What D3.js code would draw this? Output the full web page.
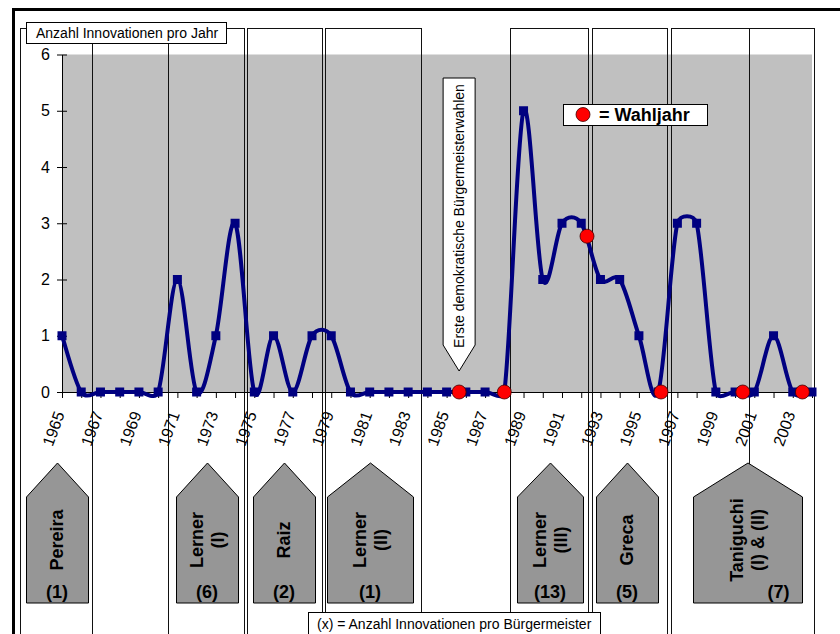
<!DOCTYPE html>
<html>
<head>
<meta charset="utf-8">
<script src="https://cdn.jsdelivr.net/npm/d3@7"></script>
<style>
  body { margin: 0; background: #fff; }
  svg { display: block; }
  text { font-family: "Liberation Sans", Arial, Helvetica, sans-serif; fill: #000; }
</style>
</head>
<body>
<svg id="chart" width="840" height="634"></svg>
<script>
// ---- data ----
const years = [1965, 1966, 1967, 1968, 1969, 1970, 1971, 1972, 1973, 1974,
               1975, 1976, 1977, 1978, 1979, 1980, 1981, 1982, 1983, 1984,
               1985, 1986, 1987, 1988, 1989, 1990, 1991, 1992, 1993, 1994,
               1995, 1996, 1997, 1998, 1999, 2000, 2001, 2002, 2003, 2004];
const innovations = [1, 0, 0, 0, 0, 0, 2, 0, 1, 3,
                     0, 1, 0, 1, 1, 0, 0, 0, 0, 0,
                     0, 0, 0, 0, 5, 2, 3, 3, 2, 2,
                     1, 0, 3, 3, 0, 0, 0, 1, 0, 0];
const yearLabels = [1965, 1967, 1969, 1971, 1973, 1975, 1977, 1979, 1981, 1983,
                    1985, 1987, 1989, 1991, 1993, 1995, 1997, 1999, 2001, 2003];
const yTicks = [0, 1, 2, 3, 4, 5, 6];

// election years (position on the year axis) and the value where the dot sits
const electionYears = [1985.65, 1988.0, 1992.3, 1996.15, 2000.4, 2003.5];
const electionValues = [0, 0, 2.77, 0, 0, 0];

// mayoral terms: box span and arrow span on the year axis
const mayorNames  = [["Pereira"], ["Lerner", "(I)"], ["Raiz"], ["Lerner", "(II)"],
                     ["Lerner", "(III)"], ["Greca"], ["Taniguchi", "(I) & (II)"]];
const mayorCounts = [1, 6, 2, 1, 13, 5, 7];
const termStart   = [1962.82, 1970.51, 1974.62, 1978.68, 1988.30, 1992.56, 1996.67];
const termEnd     = [1966.56, 1974.46, 1978.52, 1983.67, 1992.35, 1996.46, 2004.10];
const arrowStart  = [1963.13, 1970.93, 1974.93, 1978.78, 1988.66, 1992.77, 1997.81];
const arrowEnd    = [1966.35, 1974.15, 1978.16, 1983.25, 1992.09, 1995.99, 2003.48];
const termSplit   = 2000.72;   // Taniguchi I | Taniguchi II
const firstElection = 1985.65;

// ---- layout ----
const svg = d3.select("#chart");
const plot = { left: 62, right: 812, top: 54.5, bottom: 392 };
const x = d3.scaleLinear().domain([1965, 2004]).range([plot.left, plot.right]);
const y = d3.scaleLinear().domain([0, 6]).range([plot.bottom, plot.top]);
const navy = "#000080";
const font = "'Liberation Sans', Arial, sans-serif";

svg.append("rect").attr("width", 840).attr("height", 634).attr("fill", "#fff");

// grey plot area
svg.append("rect")
  .attr("x", plot.left).attr("y", plot.top)
  .attr("width", plot.right - plot.left).attr("height", plot.bottom - plot.top)
  .attr("fill", "#c0c0c0");

// term boxes
const boxTop = 28, boxBottom = 640;
const terms = d3.range(mayorNames.length).map(i => ({
  name: mayorNames[i], count: mayorCounts[i],
  s: termStart[i], e: termEnd[i], as: arrowStart[i], ae: arrowEnd[i]
}));
svg.append("g").selectAll("rect").data(terms).join("rect")
  .attr("x", d => Math.round(x(d.s)) + 0.5)
  .attr("y", boxTop + 0.5)
  .attr("width", d => Math.round(x(d.e)) - Math.round(x(d.s)))
  .attr("height", boxBottom - boxTop)
  .attr("fill", "none").attr("stroke", "#111").attr("stroke-width", 1);

svg.append("line")
  .attr("x1", Math.round(x(termSplit)) + 0.5).attr("x2", Math.round(x(termSplit)) + 0.5)
  .attr("y1", boxTop).attr("y2", 477)
  .attr("stroke", "#111").attr("stroke-width", 1);

// x axis
const xAxis = d3.axisBottom(x)
  .tickValues(years)
  .tickSizeInner(6).tickSizeOuter(0)
  .tickFormat(d => yearLabels.includes(d) ? String(d) : "");
const gx = svg.append("g").attr("transform", `translate(0,${plot.bottom})`).call(xAxis);
gx.select(".domain").attr("stroke", "#000");
gx.selectAll(".tick line").attr("stroke", "#000");
gx.selectAll(".tick text")
  .attr("y", 0).attr("dy", "0.35em")
  .attr("transform", "translate(-3,20) rotate(-70)")
  .style("text-anchor", "end")
  .style("font-size", "16px")
  .style("font-family", font)
  .attr("fill", "#000");

// y axis with crossing ticks
const yAxis = d3.axisLeft(y).tickValues(yTicks).tickFormat(d3.format("d"))
  .tickSizeInner(5).tickSizeOuter(0).tickPadding(7);
const gy = svg.append("g").attr("transform", `translate(${plot.left},0)`).call(yAxis);
gy.select(".domain").attr("stroke", "#000");
gy.selectAll(".tick line").attr("stroke", "#000").attr("x1", 5);
gy.selectAll(".tick text")
  .style("font-size", "16px")
  .style("font-family", font)
  .attr("fill", "#000");

// callout: first democratic mayoral elections
const cx = x(firstElection);
svg.append("path")
  .attr("d", `M${cx - 16},78 H${cx + 16} V345 L${cx},371 L${cx - 16},345 Z`)
  .attr("fill", "#fff").attr("stroke", "#000").attr("stroke-width", 1);
svg.append("text")
  .attr("transform", `translate(${cx},216) rotate(-90)`)
  .attr("dy", "0.35em")
  .attr("text-anchor", "middle")
  .style("font-size", "14px")
  .text("Erste demokratische Bürgermeisterwahlen");

// innovations curve: cubic Bézier smoothing, tangent = 1/6 of the
// neighbour chord, limited to half the length of the current segment
function smoothPath(p) {
  const path = d3.path();
  const n = p.length;
  const at = i => p[Math.max(0, Math.min(n - 1, i))];
  const dist = (a, b) => Math.hypot(b[0] - a[0], b[1] - a[1]);
  const tangent = (a, b, seg) => {
    let tx = (b[0] - a[0]) / 6, ty = (b[1] - a[1]) / 6;
    const len = Math.hypot(tx, ty);
    if (len > seg / 2 && len > 0) { const k = seg / 2 / len; tx *= k; ty *= k; }
    return [tx, ty];
  };
  path.moveTo(p[0][0], p[0][1]);
  for (let i = 0; i < n - 1; i++) {
    const p0 = at(i - 1), p1 = at(i), p2 = at(i + 1), p3 = at(i + 2);
    const d12 = dist(p1, p2);
    const t1 = tangent(p0, p2, d12), t2 = tangent(p1, p3, d12);
    path.bezierCurveTo(p1[0] + t1[0], p1[1] + t1[1],
                       p2[0] - t2[0], p2[1] - t2[1],
                       p2[0], p2[1]);
  }
  return path.toString();
}
const pts = years.map((yr, i) => [x(yr), y(innovations[i])]);
svg.append("path")
  .attr("d", smoothPath(pts))
  .attr("fill", "none").attr("stroke", navy).attr("stroke-width", 4)
  .attr("stroke-linejoin", "round");
svg.append("g").selectAll("rect").data(pts).join("rect")
  .attr("x", d => d[0] - 4.5).attr("y", d => d[1] - 4.5)
  .attr("width", 9).attr("height", 9).attr("fill", navy);

// election dots
svg.append("g").selectAll("circle").data(electionYears).join("circle")
  .attr("cx", d => x(d)).attr("cy", (d, i) => y(electionValues[i]))
  .attr("r", 7).attr("fill", "#ff0000").attr("stroke", "#400000").attr("stroke-width", 0.8);

// legend
svg.append("rect").attr("x", 563.5).attr("y", 104.5).attr("width", 144).attr("height", 21)
  .attr("fill", "#fff").attr("stroke", "#000");
svg.append("circle").attr("cx", 583).attr("cy", 114.5).attr("r", 7)
  .attr("fill", "#ff0000").attr("stroke", "#400000").attr("stroke-width", 0.8);
svg.append("text").attr("x", 599).attr("y", 121)
  .style("font-size", "18px").style("font-weight", "bold").text("= Wahljahr");

// title box
svg.append("rect").attr("x", 26.5).attr("y", 22.5).attr("width", 200).attr("height", 21)
  .attr("fill", "#fff").attr("stroke", "#000");
svg.append("text").attr("x", 36).attr("y", 38)
  .style("font-size", "14px").text("Anzahl Innovationen pro Jahr");

// mayor arrows
const apexY = 463, shoulderY = 497, baseY = 603;
const countShift = [0, 0, 0, 0, 0, 0, 31];
const ga = svg.append("g").selectAll("g").data(terms).join("g");
ga.append("path")
  .attr("d", d => {
    const l = Math.round(x(d.as)) + 0.5, r = Math.round(x(d.ae)) + 0.5, m = (l + r) / 2;
    return `M${l},${baseY} V${shoulderY} L${m},${apexY} L${r},${shoulderY} V${baseY} Z`;
  })
  .attr("fill", "#969696").attr("stroke", "#000").attr("stroke-width", 1);
ga.each(function(d, i) {
  const g = d3.select(this);
  const m = (x(d.as) + x(d.ae)) / 2;
  const n = d.name.length;
  d.name.forEach((line, k) => {
    g.append("text")
      .attr("transform", `translate(${m + (k - (n - 1) / 2) * 21},540) rotate(-90)`)
      .attr("dy", "0.35em").attr("text-anchor", "middle")
      .style("font-size", "18px").style("font-weight", "bold")
      .text(line);
  });
  g.append("text")
    .attr("x", m + countShift[i]).attr("y", 592).attr("dy", "0.35em")
    .attr("text-anchor", "middle")
    .style("font-size", "18px").style("font-weight", "bold")
    .text(`(${d.count})`);
});

// footnote box
svg.append("rect").attr("x", 308.5).attr("y", 612.5).attr("width", 292).attr("height", 30)
  .attr("fill", "#fff").attr("stroke", "#000");
svg.append("text").attr("x", 317).attr("y", 629)
  .style("font-size", "14px").text("(x) = Anzahl Innovationen pro Bürgermeister");

// outer frame
svg.append("rect").attr("x", 13.5).attr("y", 9.5).attr("width", 900).attr("height", 700)
  .attr("fill", "none").attr("stroke", "#000").attr("stroke-width", 3);
</script>
</body>
</html>
